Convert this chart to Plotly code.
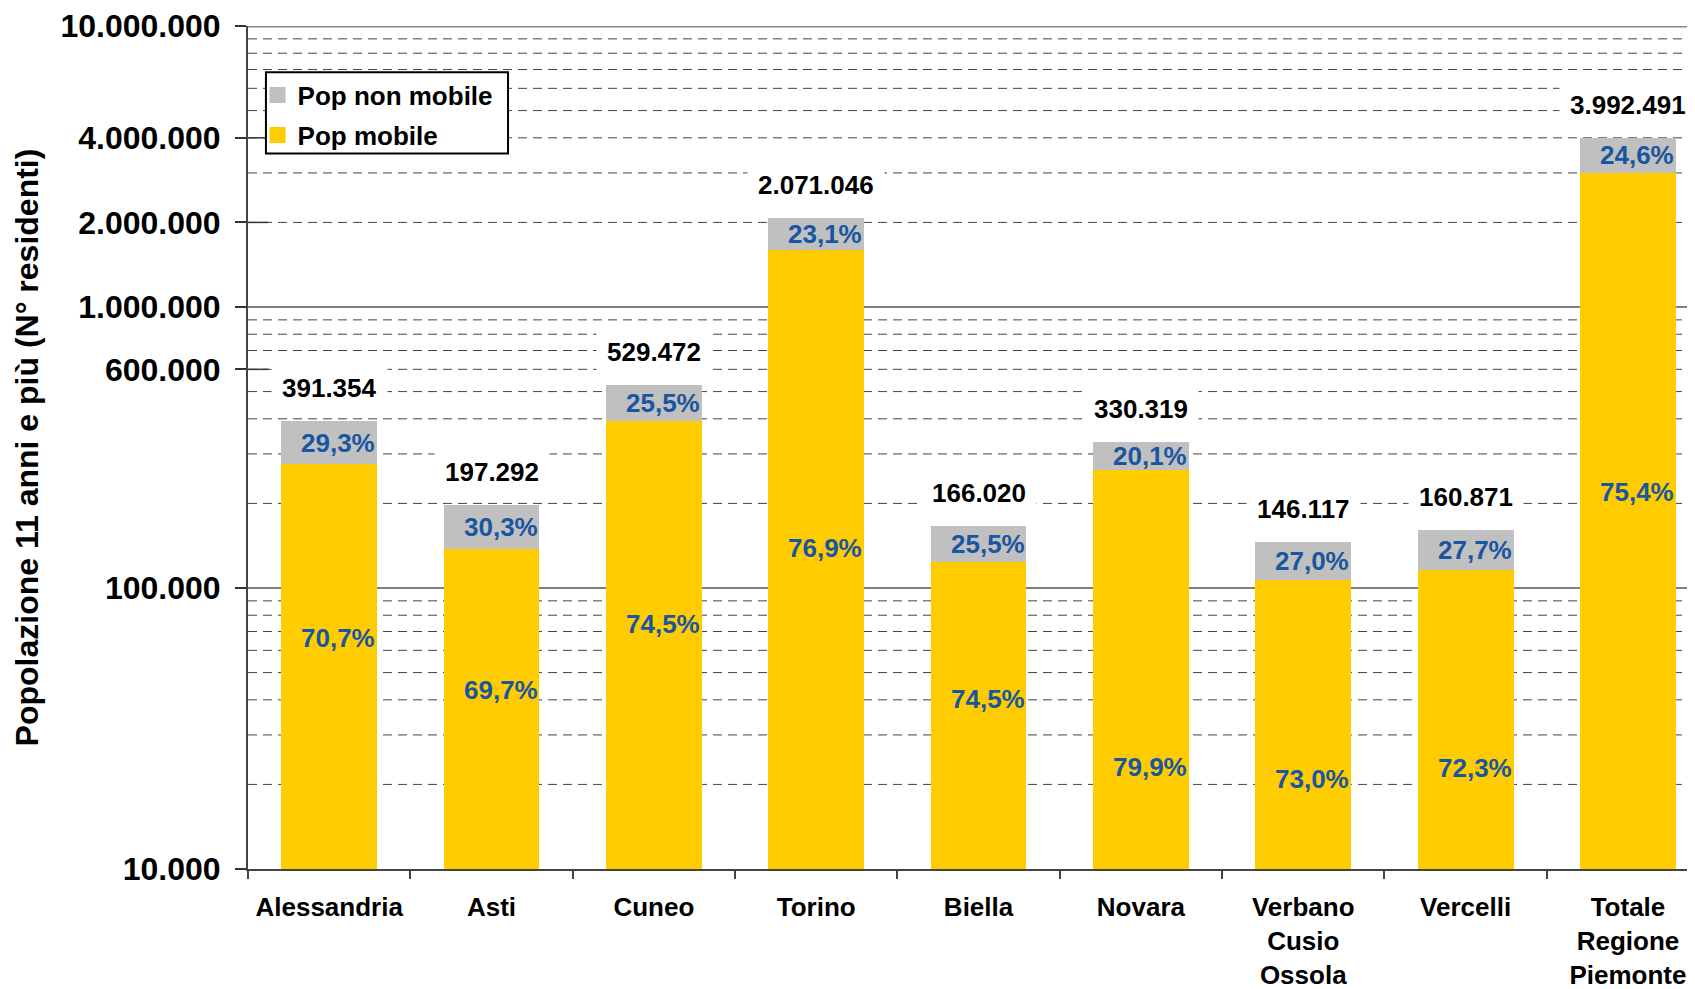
import math
import plotly.graph_objects as go

categories = ["Alessandria", "Asti", "Cuneo", "Torino", "Biella", "Novara",
              "Verbano<br>Cusio<br>Ossola", "Vercelli", "Totale<br>Regione<br>Piemonte"]
totals = [391354, 197292, 529472, 2071046, 166020, 330319, 146117, 160871, 3992491]
pct_mobile = [70.7, 69.7, 74.5, 76.9, 74.5, 79.9, 73.0, 72.3, 75.4]
pct_non_mobile = [29.3, 30.3, 25.5, 23.1, 25.5, 20.1, 27.0, 27.7, 24.6]
# anchor (population units) at which the "Pop mobile" % labels sit
mobile_label_at = [66500, 43450, 74650, 138700, 40200, 23000, 20850, 22800, 219800]

y_tickvals = [10000, 100000, 600000, 1000000, 2000000, 4000000, 10000000]

mobile = [t * p / 100 for t, p in zip(totals, pct_mobile)]
non_mobile = [t - m for t, m in zip(totals, mobile)]

FONT = "Liberation Sans, Arial, sans-serif"
BLUE = "#1A56A0"
YELLOW = "#FFCC00"
GREY = "#C0C0C0"


def fmt_int(v):
    return f"{v:,}".replace(",", ".")


def fmt_pct(v):
    return f"{v:.1f}%".replace(".", ",")


fig = go.Figure()
fig.add_trace(go.Bar(x=categories, y=mobile, name="Pop mobile", showlegend=False,
                     marker=dict(color=YELLOW, line=dict(width=0)), width=0.59))
fig.add_trace(go.Bar(x=categories, y=non_mobile, name="Pop non mobile", showlegend=False,
                     marker=dict(color=GREY, line=dict(width=0)), width=0.59))
# legend entries (square swatches), one per legend so each row can be placed
fig.add_trace(go.Scatter(x=[None], y=[None], mode="markers", name="Pop non mobile",
                         legend="legend",
                         marker=dict(symbol="square", size=17, color=GREY)))
fig.add_trace(go.Scatter(x=[None], y=[None], mode="markers", name="Pop mobile",
                         legend="legend2",
                         marker=dict(symbol="square", size=17, color=YELLOW)))

shapes = []
for d in range(4, 7):
    for m in range(2, 10):
        v = m * 10 ** d
        shapes.append(dict(type="line", xref="paper", x0=0, x1=1, yref="y",
                           y0=v, y1=v, layer="below",
                           line=dict(color="#444444", width=1, dash="9px,6px")))
for d in (5, 6):
    shapes.append(dict(type="line", xref="paper", x0=0, x1=1, yref="y",
                       y0=10 ** d, y1=10 ** d, layer="below",
                       line=dict(color="#555555", width=1.5)))
shapes.append(dict(type="line", xref="paper", x0=0, x1=1, yref="y",
                   y0=1e7, y1=1e7, layer="below",
                   line=dict(color="#888888", width=3)))
for v in (600000, 2000000, 4000000):
    shapes.append(dict(type="line", xref="paper", x0=0, x1=0.014, yref="y",
                       y0=v, y1=v, layer="above",
                       line=dict(color="#333333", width=1.5)))
# legend frame
shapes.append(dict(type="rect", xref="paper", yref="paper",
                   x0=0.0124, x1=0.1797, y0=0.8488, y1=0.945, layer="above",
                   fillcolor="white", line=dict(color="black", width=2)))

annotations = []
for i, c in enumerate(categories):
    annotations.append(dict(x=c, y=math.log10(totals[i]), yshift=33,
                            text=fmt_int(totals[i]), showarrow=False,
                            bgcolor="white", borderpad=10,
                            font=dict(family=FONT, size=26, color="black", weight="bold")))
    annotations.append(dict(x=c, y=(math.log10(totals[i]) + math.log10(mobile[i])) / 2,
                            xshift=9, text=fmt_pct(pct_non_mobile[i]), showarrow=False,
                            font=dict(family=FONT, size=26, color=BLUE, weight="bold")))
    annotations.append(dict(x=c, y=math.log10(mobile_label_at[i]),
                            xshift=9, text=fmt_pct(pct_mobile[i]), showarrow=False,
                            font=dict(family=FONT, size=26, color=BLUE, weight="bold")))

legend_style = dict(xanchor="left", yanchor="middle", bgcolor="rgba(0,0,0,0)",
                    borderwidth=0, itemwidth=30, tracegroupgap=0,
                    font=dict(family=FONT, size=26, color="black", weight="bold"))

# page body has an 8px default margin: figure is sized/offset to compensate
fig.update_layout(
    barmode="stack",
    width=1687, height=981,
    margin=dict(l=240, r=0, t=18, b=120, autoexpand=False),
    paper_bgcolor="white", plot_bgcolor="white",
    font=dict(family=FONT, size=26, color="black"),
    showlegend=True,
    legend=dict(x=0.0066, y=0.918, **legend_style),
    legend2=dict(x=0.0066, y=0.8707, **legend_style),
    xaxis=dict(range=[-0.5, 8.413], showgrid=False, showline=True,
               linecolor="#444444", linewidth=2,
               ticks="outside", tickson="boundaries", ticklen=8,
               tickcolor="#444444", tickwidth=1.5,
               tickfont=dict(family=FONT, size=26, color="black", weight="bold"),
               ticklabelstandoff=14, fixedrange=True),
    yaxis=dict(type="log", range=[4, 7], showgrid=False, zeroline=False,
               showline=True, linecolor="#444444", linewidth=2,
               tickvals=y_tickvals, ticktext=[fmt_int(v) for v in y_tickvals],
               ticks="outside", ticklen=11, tickcolor="#333333", tickwidth=1.5,
               tickfont=dict(family=FONT, size=32, color="black", weight="bold"),
               ticklabelstandoff=8,
               title=dict(text="Popolazione 11 anni e più (N° residenti)",
                          font=dict(family=FONT, size=32, color="black", weight="bold"),
                          standoff=12),
               fixedrange=True),
    shapes=shapes,
    annotations=annotations,
)

fig.write_html("out.html", config={"displayModeBar": False})
